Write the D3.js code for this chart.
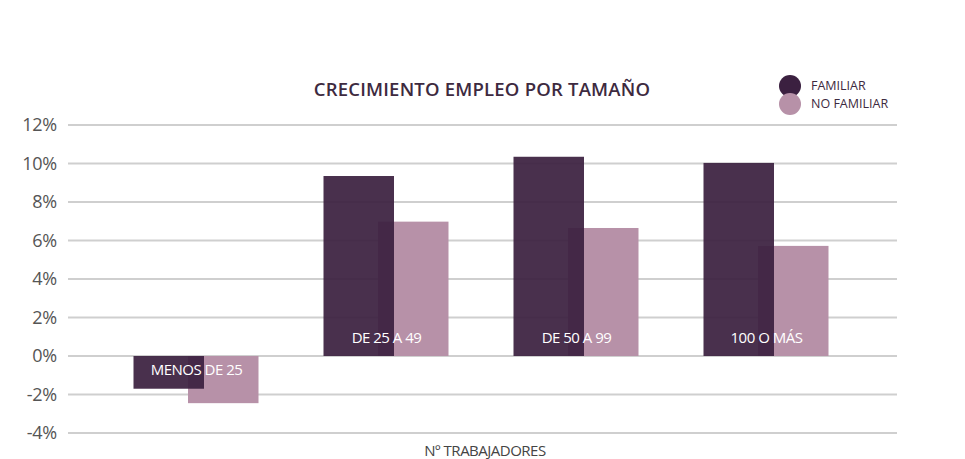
<!DOCTYPE html>
<html lang="es">
  <head>
    <meta charset="utf-8" />
    <title>Crecimiento empleo por tamaño</title>
    <script src="https://cdn.jsdelivr.net/npm/d3@7"></script>
    <style>
      body { margin: 0; background: #fff; }
      text { font-family: "Open Sans", sans-serif; }
    </style>
  </head>
  <body>
    <div id="root"></div>
    <script type="text/javascript">
      // data
      const categories = ["MENOS DE 25", "DE 25 A 49", "DE 50 A 99", "100 O MÁS"];
      const familiar = [-1.7, 9.35, 10.35, 10.03];
      const noFamiliar = [-2.45, 6.98, 6.65, 5.72];
      const yTicks = [-4, -2, 0, 2, 4, 6, 8, 10, 12];

      const width = 965;
      const height = 459;
      const gridLeft = 68;
      const gridRight = 897;

      const darkColor = "#3b2040";
      const lightColor = "#b791a8";

      const svg = d3.select("#root").append("svg")
        .attr("width", width)
        .attr("height", height);

      const y = d3.scaleLinear().domain([-4, 12]).range([433, 125]);

      const x = d3.scaleBand()
        .domain(categories)
        .range([101.5, 861.5]);

      const barWidth = 70.5;
      const offset = 54.5;

      // grid lines + tick labels
      svg.append("g")
        .selectAll("line")
        .data(yTicks)
        .join("line")
        .attr("x1", gridLeft)
        .attr("x2", gridRight)
        .attr("y1", d => y(d))
        .attr("y2", d => y(d))
        .attr("stroke", "#cfcfcf")
        .attr("stroke-width", 2);

      svg.append("g")
        .selectAll("text")
        .data(yTicks)
        .join("text")
        .attr("x", 57)
        .attr("y", d => y(d) + 6)
        .attr("text-anchor", "end")
        .attr("font-size", 18)
        .attr("fill", "#555")
        .attr("letter-spacing", -0.2)
        .text(d => d + "%");

      // light bars first
      svg.append("g")
        .selectAll("rect")
        .data(noFamiliar)
        .join("rect")
        .attr("x", (d, i) => x(categories[i]) + x.bandwidth() / 2 - 8.5)
        .attr("y", d => y(Math.max(0, d)))
        .attr("width", barWidth)
        .attr("height", d => Math.abs(y(d) - y(0)))
        .attr("fill", lightColor);

      // dark bars on top, slightly see-through
      svg.append("g")
        .selectAll("rect")
        .data(familiar)
        .join("rect")
        .attr("x", (d, i) => x(categories[i]) + x.bandwidth() / 2 - 8.5 - offset)
        .attr("y", d => y(Math.max(0, d)))
        .attr("width", barWidth)
        .attr("height", d => Math.abs(y(d) - y(0)))
        .attr("fill", darkColor)
        .attr("fill-opacity", 0.93);

      // category labels inside bars
      svg.append("g")
        .selectAll("text")
        .data(categories)
        .join("text")
        .attr("x", d => x(d) + x.bandwidth() / 2)
        .attr("y", (d, i) => familiar[i] >= 0 ? y(0) - 13 : y(0) + 19)
        .attr("text-anchor", "middle")
        .attr("font-size", 15)
        .attr("fill", "#fff")
        .attr("letter-spacing", -0.5)
        .text(d => d);

      // title
      svg.append("text")
        .attr("x", 482)
        .attr("y", 96)
        .attr("text-anchor", "middle")
        .attr("font-size", 18.5)
        .attr("font-weight", 600)
        .attr("fill", "#3d2a40")
        .attr("letter-spacing", 0.2)
        .text("CRECIMIENTO EMPLEO POR TAMAÑO");

      // x axis title
      svg.append("text")
        .attr("x", 485)
        .attr("y", 456)
        .attr("text-anchor", "middle")
        .attr("font-size", 15)
        .attr("fill", "#444")
        .attr("letter-spacing", -0.5)
        .text("Nº TRABAJADORES");

      // legend
      const legend = [
        { name: "FAMILIAR", color: darkColor },
        { name: "NO FAMILIAR", color: lightColor }
      ];
      const lg = svg.append("g");
      lg.selectAll("circle")
        .data(legend)
        .join("circle")
        .attr("cx", 790)
        .attr("cy", (d, i) => 86 + i * 18)
        .attr("r", 11)
        .attr("fill", d => d.color);
      lg.selectAll("text")
        .data(legend)
        .join("text")
        .attr("x", 811)
        .attr("y", (d, i) => 90 + i * 17.5)
        .attr("font-size", 12.5)
        .attr("fill", "#3d2a40")
        .attr("letter-spacing", 0)
        .text(d => d.name);
    </script>
  </body>
</html>
